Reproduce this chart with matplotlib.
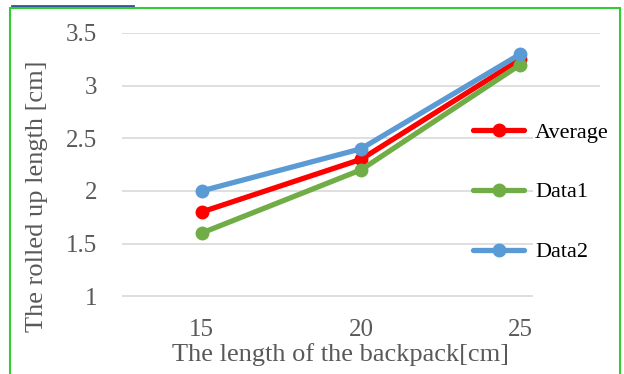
import matplotlib.pyplot as plt
from matplotlib.patches import Rectangle
from matplotlib.lines import Line2D

plt.rcParams['font.family'] = ['Liberation Serif', 'DejaVu Serif']

lengths = ["15", "20", "25"]
average = [1.8, 2.3, 3.25]
data1 = [1.6, 2.2, 3.2]
data2 = [2.0, 2.4, 3.3]

series = [
    ("Average", average, "#FF0000"),
    ("Data1", data1, "#70AD47"),
    ("Data2", data2, "#5B9BD5"),
]

W, H = 624, 374
fig = plt.figure(figsize=(W / 100, H / 100), dpi=100)
ax = fig.add_axes([122 / W, 1 - 312 / H, 478 / W, 279 / H])

x = range(len(lengths))
for name, vals, col in series:
    ax.plot(x, vals, color=col, lw=3.8, marker='o', ms=9,
            solid_capstyle='round', label=name, zorder=3)

ax.set_xlim(-0.5, 2.5)
ax.set_ylim(0.85, 3.5)
ax.set_yticks([1, 1.5, 2, 2.5, 3, 3.5])
ax.set_yticklabels(["1", "1.5", "2", "2.5", "3", "3.5"])
ax.set_xticks(list(x))
ax.set_xticklabels(lengths)
ax.grid(axis='y', color='#D9D9D9', lw=1.2)
ax.grid(axis='x', visible=False)
ax.set_axisbelow(True)
for s in ax.spines.values():
    s.set_visible(False)
ax.tick_params(length=0, labelsize=18, labelcolor='#595959')
ax.tick_params(axis='y', pad=18)
ax.tick_params(axis='x', pad=5)

fig.text(37 / W, 1 - 196 / H, "The rolled up length [cm]", rotation=90,
         ha='center', va='center', fontsize=19, color='#595959')
fig.text(341 / W, 1 - 355 / H, "The length of the backpack[cm]",
         ha='center', va='center', fontsize=19, color='#595959')

# legend area blanks out the grid on the right
ax.add_patch(Rectangle((533 / W, 1 - 305 / H), 70 / W, 205 / H,
                       transform=fig.transFigure, facecolor='white',
                       edgecolor='none', zorder=2, clip_on=False))

leg = ax.legend(loc='upper left', bbox_to_anchor=(473 / W, 1 - 122 / H),
                bbox_transform=fig.transFigure, frameon=False, fontsize=16,
                handlelength=2.3, labelspacing=1.77, borderpad=0,
                borderaxespad=0, handletextpad=0.5)
leg.set_zorder(5)
for t in leg.get_texts():
    t.set_color('#000000')

# chart border and top accent
fig.add_artist(Rectangle((10 / W, -0.05), 610 / W, 1 - 8 / H + 0.05,
                         transform=fig.transFigure, fill=False,
                         edgecolor='#33CC33', lw=1.5, zorder=6))
fig.add_artist(Line2D([12 / W, 133 / W], [1 - 6 / H, 1 - 6 / H],
                      transform=fig.transFigure, color='#2F5597', lw=2))

fig.savefig("out.png", dpi=100)
